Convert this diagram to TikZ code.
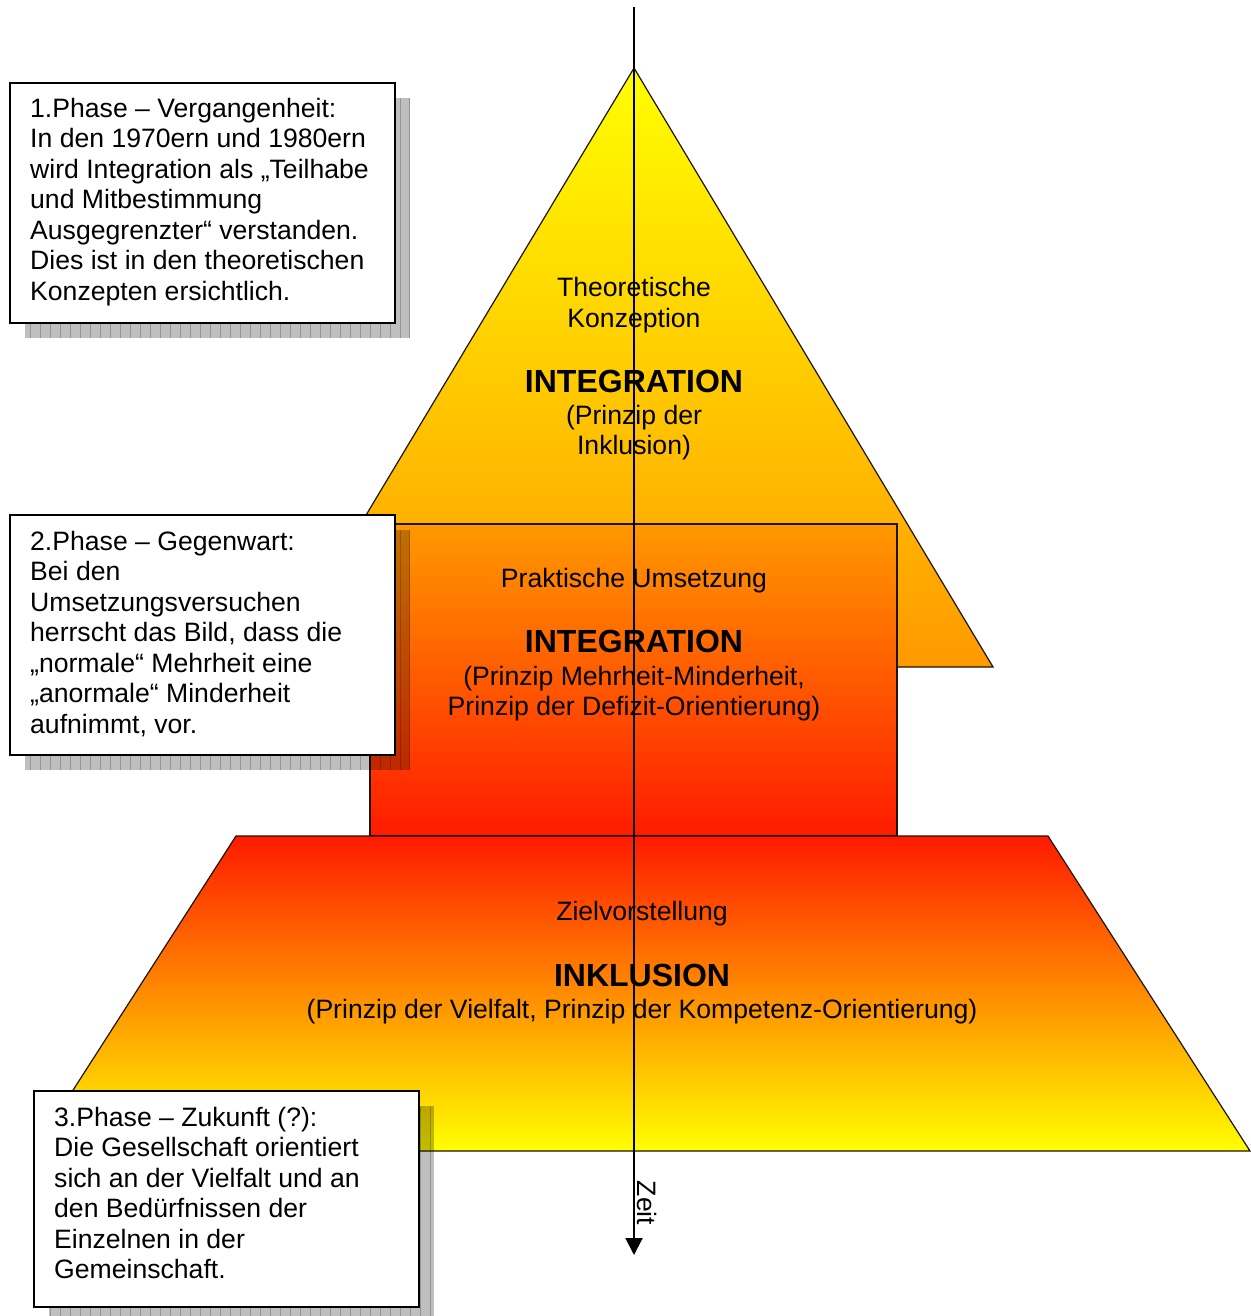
\documentclass[tikz,border=0pt]{standalone}
\usepackage{fontspec}
\setmainfont{Liberation Sans}
\usetikzlibrary{arrows.meta}
\definecolor{myyellow}{HTML}{FFFF00}
\definecolor{myorange}{HTML}{FF9900}
\definecolor{myred}{HTML}{FF1A00}
\tikzset{
  shapeline/.style={draw=black!85!brown, line width=1.2pt},
  normaltext/.style={inner sep=0pt, font=\fontsize{26.6}{30.5}\selectfont},
  boldtext/.style={inner sep=0pt, font=\fontsize{32}{36.8}\selectfont\bfseries},
  infobox/.style={draw=black, line width=2pt, fill=white},
  shadowbox/.style={fill=black, fill opacity=0.25},
  shadowgrid/.style={draw=black, draw opacity=0.22, line width=1pt},
  timearrow/.style={line width=2pt, -{Triangle[length=17pt,width=17pt]}}
}
\begin{document}
\begin{tikzpicture}[x=1pt,y=-1pt]
\useasboundingbox (0,0) rectangle (1250,1316);
% triangle
\path[shapeline, top color=myyellow, bottom color=myorange]
  (634,68) -- (993,667) -- (275,667) -- cycle;
% rectangle
\path[shapeline, top color=myorange, bottom color=myred]
  (370,524) rectangle (897,836);
% trapezoid
\path[shapeline, top color=myred, bottom color=myyellow]
  (236,836) -- (1048,836) -- (1250,1151) -- (34,1151) -- cycle;

% triangle texts
\node[normaltext, align=center, anchor=north] (t1) at (634,277.5) {Theoretische\\Konzeption};
\node[boldtext, anchor=north] (t2) at (634,369.5) {INTEGRATION};
\node[normaltext, align=center, anchor=north] (t3) at (634,405) {(Prinzip der\\Inklusion)};
% rectangle texts
\node[normaltext, anchor=north] (r1) at (634,568.5) {Praktische Umsetzung};
\node[boldtext, anchor=north] (r2) at (634,629.5) {INTEGRATION};
\node[normaltext, align=center, anchor=north] (r3) at (634,666) {(Prinzip Mehrheit-Minderheit,\\Prinzip der Defizit-Orientierung)};
% trapezoid texts
\node[normaltext, anchor=north] (z1) at (642,901.5) {Zielvorstellung};
\node[boldtext, anchor=north] (z2) at (642,963.5) {INKLUSION};
\node[normaltext, anchor=north] (z3) at (642,999) {(Prinzip der Vielfalt, Prinzip der Kompetenz-Orientierung)};

% time arrow
\coordinate (ztop) at (634,7);
\coordinate (zbot) at (634,1255);
\draw[timearrow] (ztop) -- (zbot);
\node[normaltext, rotate=-90] (zeit) at (647,1203) {Zeit};

% box 1
\fill[shadowbox] (25,98) rectangle (410,338);
\draw[shadowgrid, step=10] (25,98) grid (410,338);
\node[infobox, minimum width=385pt, minimum height=240pt, anchor=north west] (b1) at (9,82) {};
\node[normaltext, align=left, anchor=north west] (b1t) at (30,98)
 {1.Phase – Vergangenheit:\\In den 1970ern und 1980ern\\wird Integration als „Teilhabe\\und Mitbestimmung\\Ausgegrenzter“ verstanden.\\Dies ist in den theoretischen\\Konzepten ersichtlich.};

% box 2
\fill[shadowbox] (25,530) rectangle (410,770);
\draw[shadowgrid, step=10] (25,530) grid (410,770);
\node[infobox, minimum width=385pt, minimum height=240pt, anchor=north west] (b2) at (9,514) {};
\node[normaltext, align=left, anchor=north west] (b2t) at (30,531)
 {2.Phase – Gegenwart:\\Bei den\\Umsetzungsversuchen\\herrscht das Bild, dass die\\„normale“ Mehrheit eine\\„anormale“ Minderheit\\aufnimmt, vor.};

% box 3
\fill[shadowbox] (49,1106) rectangle (434,1316);
\draw[shadowgrid, step=10] (49,1106) grid (434,1316);
\node[infobox, minimum width=385pt, minimum height=216pt, anchor=north west] (b3) at (33,1090) {};
\node[normaltext, align=left, anchor=north west] (b3t) at (54,1107)
 {3.Phase – Zukunft (?):\\Die Gesellschaft orientiert\\sich an der Vielfalt und an\\den Bedürfnissen der\\Einzelnen in der\\Gemeinschaft.};
\end{tikzpicture}
\end{document}
